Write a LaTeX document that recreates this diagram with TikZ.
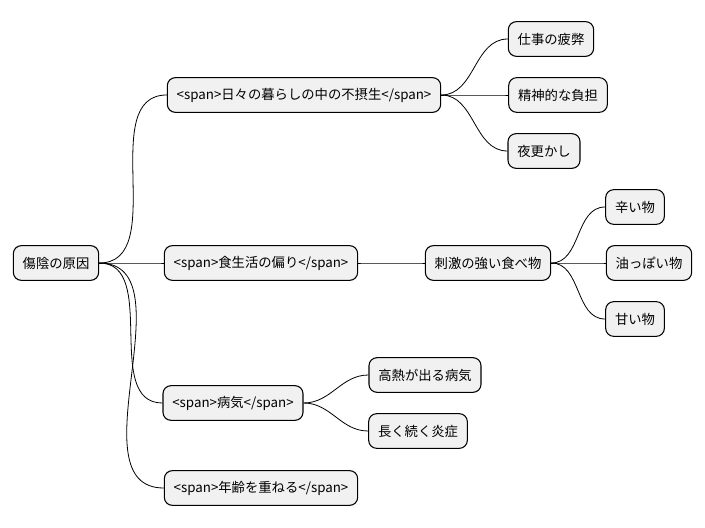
\documentclass[tikz,border=0pt]{standalone}
\usepackage{fontspec}
\setmainfont{Noto Sans CJK JP}
\begin{document}
\begin{tikzpicture}[x=0.75pt,y=-0.75pt,
  box/.style={draw=black,fill={rgb,255:red,241;green,241;blue,241},rounded corners=6pt,line width=0.8pt,minimum height=26pt,inner xsep=7pt,font=\fontsize{10pt}{12pt}\selectfont},
  conn/.style={line width=0.6pt,out=0,in=180,looseness=1}]
\useasboundingbox (0,0) rectangle (705,527);
\node[box] (r) at (56,263) {傷陰の原因};
\node[box] (a) at (304,95) {<span>日々の暮らしの中の不摂生</span>};
\node[box] (a1) at (551,39) {仕事の疲弊};
\node[box] (a2) at (558,95) {精神的な負担};
\node[box] (a3) at (544,151) {夜更かし};
\node[box] (b) at (261,263) {<span>食生活の偏り</span>};
\node[box] (b1) at (488,263) {刺激の強い食べ物};
\node[box] (b11) at (635,207) {辛い物};
\node[box] (b12) at (649,263) {油っぽい物};
\node[box] (b13) at (635,319) {甘い物};
\node[box] (c) at (233,403) {<span>病気</span>};
\node[box] (c1) at (425,375) {高熱が出る病気};
\node[box] (c2) at (418,431) {長く続く炎症};
\node[box] (d) at (261,488) {<span>年齢を重ねる</span>};
\foreach \p/\c in {r/a,r/b,r/c,r/d,a/a1,a/a2,a/a3,b/b1,b1/b11,b1/b12,b1/b13,c/c1,c/c2}
  \draw[conn] (\p.east) to (\c.west);
\end{tikzpicture}
\end{document}
